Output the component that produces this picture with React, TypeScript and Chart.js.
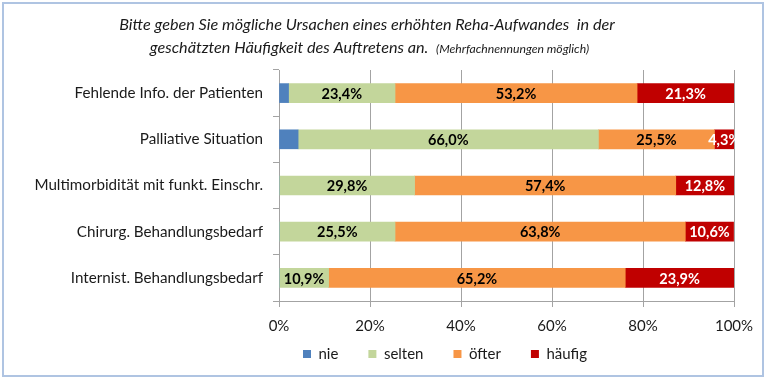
import React, { useEffect, useRef } from "react";
import { Chart, registerables } from "chart.js";

Chart.register(...registerables);

// ---- data ----
const categories = [
  "Fehlende Info. der Patienten",
  "Palliative Situation",
  "Multimorbidität mit funkt. Einschr.",
  "Chirurg. Behandlungsbedarf",
  "Internist. Behandlungsbedarf",
];
const seriesNames = ["nie", "selten", "öfter", "häufig"];
const nieValues = [2.1, 4.2, 0, 0, 0];
const seltenValues = [23.4, 66.0, 29.8, 25.5, 10.9];
const oefterValues = [53.2, 25.5, 57.4, 63.8, 65.2];
const haeufigValues = [21.3, 4.3, 12.8, 10.6, 23.9];
const xTickValues = [0, 20, 40, 60, 80, 100];
const titleLine1 = "Bitte geben Sie mögliche Ursachen eines erhöhten Reha-Aufwandes  in der";
const titleLine2 = "geschätzten Häufigkeit des Auftretens an.";
const titleNote = "(Mehrfachnennungen möglich)";

// ---- styles ----
const FONT = "Lato, 'Noto Sans', sans-serif";
const TEXT = "#1a1a1a";
const GRID = "#A3A3A3";
const colors = ["#4F81BD", "#C3D69B", "#F79646", "#C00000"];
const labelColors = [null, "#000000", "#000000", "#FFFFFF"];
const LEGEND_PAD = 30;
const LEGEND_FONT = 15;
const PLOT_BOTTOM = 301;

const fmt = (v: number) => v.toFixed(1).replace(".", ",") + "%";

const titlePlugin = {
  id: "customTitle",
  afterDraw(chart: any) {
    const ctx = chart.ctx;
    ctx.save();
    ctx.fillStyle = TEXT;
    ctx.textBaseline = "middle";
    const mainFont = `italic 16.2px ${FONT}`;
    const noteFont = `italic 12.2px ${FONT}`;
    ctx.font = mainFont;
    ctx.textAlign = "center";
    ctx.fillText(titleLine1, 367, 25);
    const w1 = ctx.measureText(titleLine2 + "  ").width;
    ctx.font = noteFont;
    const w2 = ctx.measureText(titleNote).width;
    const start = 369.5 - (w1 + w2) / 2;
    ctx.textAlign = "left";
    ctx.font = mainFont;
    ctx.fillText(titleLine2 + "  ", start, 48);
    ctx.font = noteFont;
    ctx.fillText(titleNote, start + w1, 49);
    ctx.restore();
  },
};

const dataLabelPlugin = {
  id: "dataLabels",
  afterDatasetsDraw(chart: any) {
    const ctx = chart.ctx;
    const area = chart.chartArea;
    ctx.save();
    ctx.beginPath();
    ctx.rect(area.left, area.top, area.right - area.left + 3, area.bottom - area.top);
    ctx.clip();
    ctx.font = `bold 14.5px ${FONT}`;
    ctx.textAlign = "center";
    ctx.textBaseline = "middle";
    chart.data.datasets.forEach((ds: any, di: number) => {
      const color = labelColors[di];
      if (!color) return;
      const meta = chart.getDatasetMeta(di);
      meta.data.forEach((el: any, i: number) => {
        const v = ds.data[i];
        if (!v) return;
        ctx.fillStyle = color;
        ctx.fillText(fmt(v), (el.x + el.base) / 2, el.y + 1);
      });
    });
    ctx.restore();
  },
};

// place the legend row like the reference (first box at x=303, centre y=354)
const legendPlacePlugin = {
  id: "legendPlace",
  afterLayout(chart: any) {
    const lg = chart.legend;
    if (!lg || !lg.lineWidths) return;
    const W = lg.right - lg.left;
    const lw = lg.lineWidths[0];
    const left = (2 * 303 - LEGEND_PAD + lw - W) / 2;
    lg.left = left;
    lg.right = left + W;
    const top = 354 - LEGEND_PAD - LEGEND_FONT / 2;
    lg.top = top;
    lg.bottom = top + LEGEND_FONT + LEGEND_PAD + 10;
  },
};

export default function App() {
  const ref = useRef<HTMLCanvasElement | null>(null);

  useEffect(() => {
    if (!ref.current) return;
    const allValues = [nieValues, seltenValues, oefterValues, haeufigValues];
    const chart = new Chart(ref.current, {
      type: "bar",
      data: {
        labels: categories,
        datasets: seriesNames.map((name, i) => ({
          label: name,
          data: allValues[i],
          backgroundColor: colors[i],
          borderWidth: 0,
          barThickness: 19,
        })),
      },
      options: {
        indexAxis: "y",
        responsive: false,
        animation: false,
        maintainAspectRatio: false,
        layout: { padding: { top: 70, left: 0, right: 33, bottom: 0 } },
        scales: {
          x: {
            stacked: true,
            min: 0,
            max: 100,
            clip: false,
            afterBuildTicks: (scale: any) => {
              scale.ticks = xTickValues.map((v) => ({ value: v }));
            },
            afterFit: (scale: any) => {
              scale.height = 380 - 1 - PLOT_BOTTOM;
            },
            ticks: {
              callback: (v: any) => v + "%",
              color: TEXT,
              font: { family: FONT, size: 15 },
              padding: 10,
            },
            grid: {
              color: GRID,
              lineWidth: 1,
              tickLength: 6,
              drawTicks: true,
            },
            border: { display: true, color: GRID },
          },
          y: {
            stacked: true,
            afterFit: (scale: any) => {
              scale.width = 279;
            },
            ticks: {
              color: TEXT,
              font: { family: FONT, size: 15.2 },
              padding: 10,
            },
            grid: {
              offset: true,
              drawOnChartArea: false,
              drawTicks: true,
              tickLength: 6,
              color: GRID,
            },
            border: { display: true, color: GRID },
          },
        },
        plugins: {
          title: { display: false },
          tooltip: { enabled: false },
          legend: {
            position: "bottom",
            maxHeight: 1,
            labels: {
              boxWidth: 8,
              boxHeight: 8,
              padding: LEGEND_PAD,
              color: TEXT,
              font: { family: FONT, size: LEGEND_FONT },
            },
          },
        },
      } as any,
      plugins: [titlePlugin, dataLabelPlugin, legendPlacePlugin],
    });
    return () => chart.destroy();
  }, []);

  return (
    <div style={{ position: "fixed", left: 0, top: 0, width: 767, height: 380, background: "#fff" }}>
      <canvas
        ref={ref}
        width={767}
        height={380}
        style={{ position: "absolute", left: 0, top: 0, width: 767, height: 380 }}
      />
      <div
        style={{
          position: "absolute",
          left: 2,
          top: 2,
          width: 758,
          height: 371,
          border: "2px solid #AFC4E2",
          pointerEvents: "none",
        }}
      />
    </div>
  );
}
